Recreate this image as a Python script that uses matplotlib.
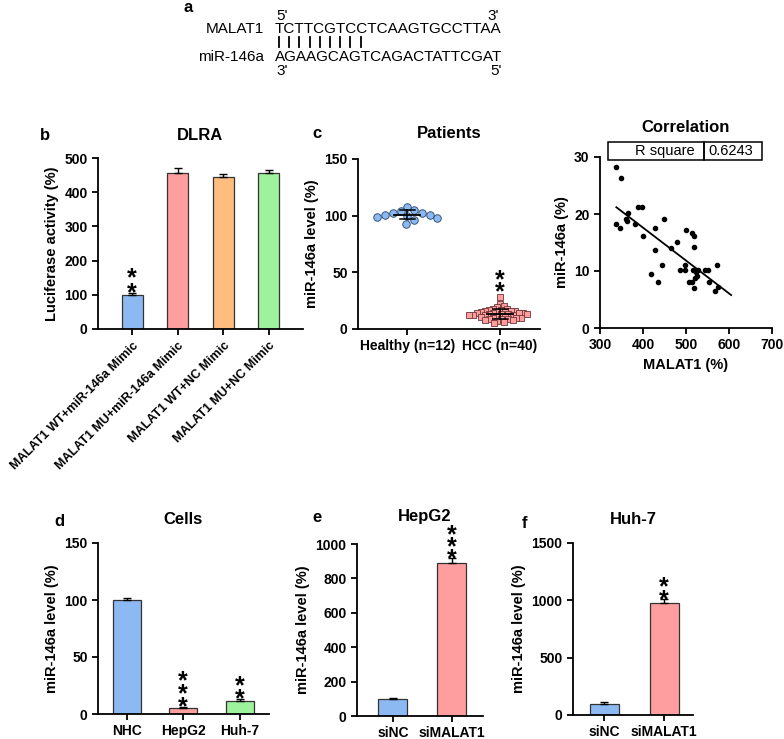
import numpy as np
import matplotlib
matplotlib.use("Agg")
import matplotlib.pyplot as plt
from matplotlib.patches import Rectangle
from matplotlib.lines import Line2D

plt.rcParams['font.family'] = ['Liberation Sans', 'DejaVu Sans']
plt.rcParams['font.weight'] = 'bold'
plt.rcParams['axes.labelweight'] = 'bold'
plt.rcParams['axes.linewidth'] = 1.3
plt.rcParams['xtick.major.width'] = 1.3
plt.rcParams['ytick.major.width'] = 1.3
plt.rcParams['xtick.major.size'] = 4
plt.rcParams['ytick.major.size'] = 4

# ---------------- data ----------------
malat1_seq = "TCTTCGTCCTCAAGTGCCTTAA"
mir_seq = "AGAAGCAGTCAGACTATTCGAT"
n_pairs = 9

dlra_labels = ["MALAT1 WT+miR-146a Mimic", "MALAT1 MU+miR-146a Mimic",
               "MALAT1 WT+NC Mimic", "MALAT1 MU+NC Mimic"]
dlra_values = [100, 455, 445, 455]
dlra_err = [6, 16, 9, 11]

healthy_vals = [108, 105, 104, 102, 102, 101, 101, 100, 99, 98, 96, 93]
hcc_vals = [28, 22, 20, 19, 18, 18, 17, 17, 16, 16, 16, 15, 15, 15, 14, 14, 14, 14, 13, 13,
            13, 13, 12, 12, 12, 12, 11, 11, 11, 10, 10, 10, 9, 9, 9, 8, 8, 7, 6, 5]
patient_labels = ["Healthy (n=12)", "HCC (n=40)"]

malat1_x = [338, 348, 338, 346, 360, 362, 365, 382, 388, 398, 400, 428, 428, 418, 435,
            444, 448, 466, 480, 486, 497, 497, 500, 506, 515, 515, 518, 518, 517, 523,
            525, 522, 518, 528, 545, 552, 554, 571, 568, 575]
mir_y = [28.2, 26.3, 18.2, 17.6, 19.1, 18.7, 20.2, 18.2, 21.2, 21.2, 16.1, 17.5, 13.7, 9.4, 8.0,
         11.1, 19.2, 14.1, 15.1, 10.1, 10.1, 11.1, 17.2, 8.1, 8.1, 16.6, 16.2, 14.2, 10.1, 9.9,
         9.1, 8.8, 7.1, 10.1, 10.1, 10.1, 8.1, 11.1, 6.5, 7.2]
r_square = "0.6243"

cells_labels = ["NHC", "HepG2", "Huh-7"]
cells_values = [100, 5, 11]
cells_err = [2, 1.5, 2.5]

hepg2_labels = ["siNC", "siMALAT1"]
hepg2_values = [100, 890]
hepg2_err = [6, 30]

huh7_labels = ["siNC", "siMALAT1"]
huh7_values = [100, 975]
huh7_err = [12, 40]

# ---------------- style ----------------
BLUE = '#8DB9F2'
PINK = '#FF9E9E'
ORANGE = '#FFBE7D'
GREEN = '#9EF29E'
EDGE = '#333333'
TICK_FS = 10
LABEL_FS = 10.5
TITLE_FS = 12
LETTER_FS = 12

W, H = 784, 739
fig = plt.figure(figsize=(W / 100, H / 100), dpi=100)


def ax_at(left, top, right, bottom):
    return fig.add_axes([left / W, 1 - bottom / H, (right - left) / W, (bottom - top) / H])


def style(ax):
    ax.spines['top'].set_visible(False)
    ax.spines['right'].set_visible(False)
    ax.tick_params(labelsize=TICK_FS)
    for lab in ax.get_xticklabels() + ax.get_yticklabels():
        lab.set_fontweight('bold')


def bars(ax, values, err, colors, width):
    x = np.arange(len(values))
    ax.bar(x, values, width=width, color=colors, edgecolor=EDGE, linewidth=0.9, zorder=2)
    ax.errorbar(x, values, yerr=[np.zeros(len(values)), err], fmt='none', ecolor='black',
                elinewidth=1.0, capsize=3, capthick=1.0, zorder=3)
    return x


def stars(ax, x, y, n, gap_px=7, step_px=10, size=18):
    # vertically stacked asterisks as one multi-line text
    em_px = size * 100 / 72
    linespacing = step_px / (0.97 * em_px)
    off_px = gap_px - 0.77 * em_px
    ax.annotate('\n'.join(['*'] * n), xy=(x, y), xytext=(0, off_px * 0.72),
                textcoords='offset points', ha='center', va='bottom', multialignment='center',
                linespacing=linespacing, fontsize=size, fontweight='bold',
                annotation_clip=False)


def fig_text(x, y, s, **kw):
    return fig.text(x / W, 1 - y / H, s, **kw)


# ---------------- panel a ----------------
fs_seq = 11
fig_text(188, 8, 'a', fontsize=LETTER_FS, fontweight='bold', ha='center', va='center')
fig_text(276, 16, "5'", fontsize=fs_seq, fontweight='normal', ha='left', va='center')
fig_text(487, 16, "3'", fontsize=fs_seq, fontweight='normal', ha='left', va='center')
fig_text(264, 29, "MALAT1", fontsize=fs_seq, fontweight='normal', ha='right', va='center')
fig_text(275, 29, malat1_seq, fontsize=fs_seq, fontweight='normal', ha='left', va='center')
for i in range(n_pairs):
    xp = (279 + i * 10.2) / W
    fig.add_artist(Line2D([xp, xp], [1 - 37 / H, 1 - 47 / H], color='black', lw=1.3))
fig_text(264, 57, "miR-146a", fontsize=fs_seq, fontweight='normal', ha='right', va='center')
fig_text(275, 57, mir_seq, fontsize=fs_seq, fontweight='normal', ha='left', va='center')
fig_text(276, 71, "3'", fontsize=fs_seq, fontweight='normal', ha='left', va='center')
fig_text(490, 71, "5'", fontsize=fs_seq, fontweight='normal', ha='left', va='center')

# ---------------- panel b ----------------
axb = ax_at(98, 158, 303, 329)
xb = bars(axb, dlra_values, dlra_err, [BLUE, PINK, ORANGE, GREEN], 0.46)
axb.set_xlim(-0.75, 3.75)
axb.set_ylim(0, 500)
axb.set_yticks([0, 100, 200, 300, 400, 500])
axb.set_xticks(xb)
axb.set_ylabel('Luciferase activity (%)', fontsize=LABEL_FS)
style(axb)
axb.set_xticklabels(dlra_labels, rotation=45, ha='right', rotation_mode='anchor',
                    fontsize=9, fontweight='bold')
stars(axb, 0, dlra_values[0] + dlra_err[0], 2, gap_px=7, step_px=12)
fig_text(200, 135, 'DLRA', fontsize=TITLE_FS, fontweight='bold', ha='center', va='center')
fig_text(45, 135, 'b', fontsize=LETTER_FS, fontweight='bold', ha='center', va='center')

# ---------------- panel c: patients ----------------
axc = ax_at(358, 159, 540, 329)
axc.set_xlim(-0.53, 1.43)
axc.set_ylim(0, 150)
axc.set_yticks([0, 50, 100, 150])
axc.set_xticks([0, 1])
axc.set_xticklabels(patient_labels, fontsize=LABEL_FS)
axc.set_ylabel('miR-146a level (%)', fontsize=LABEL_FS)
style(axc)


def swarm_x(ax, xc, values, d_px):
    trans = ax.transData
    pts = trans.transform(np.column_stack([np.full(len(values), xc), values]))
    cx = pts[0, 0]
    order = np.argsort(values)[::-1]
    placed = []
    xs = np.zeros(len(values))
    for idx in order:
        y = pts[idx, 1]
        cands = [cx]
        for (px, py) in placed:
            dy = abs(py - y)
            if dy < d_px:
                dx = np.sqrt(d_px ** 2 - dy ** 2)
                cands += [px + dx, px - dx]
        cands = sorted(cands, key=lambda c: abs(c - cx))
        for c in cands:
            ok = all((c - px) ** 2 + (y - py) ** 2 >= d_px ** 2 - 1e-6 for (px, py) in placed)
            if ok:
                placed.append((c, y))
                xs[idx] = c
                break
    inv = trans.inverted()
    return inv.transform(np.column_stack([xs, pts[:, 1]]))[:, 0]


hx = swarm_x(axc, 0, np.array(healthy_vals, float), 8.0)
axc.plot(hx, healthy_vals, 'o', ms=5.4, mfc=BLUE, mec='#35557a', mew=0.7, zorder=3, clip_on=False)
cx_ = swarm_x(axc, 1, np.array(hcc_vals, float), 4.3)
axc.plot(cx_, hcc_vals, 's', ms=5.0, mfc=PINK, mec='#6e3535', mew=0.6, zorder=3, clip_on=False)
for xc, vals in [(0, healthy_vals), (1, hcc_vals)]:
    m = np.mean(vals)
    sd = np.std(vals, ddof=1)
    axc.plot([xc - 0.14, xc + 0.14], [m, m], color='black', lw=1.3, zorder=4)
    axc.plot([xc, xc], [m - sd, m + sd], color='black', lw=1.1, zorder=4)
    for v in (m - sd, m + sd):
        axc.plot([xc - 0.08, xc + 0.08], [v, v], color='black', lw=1.1, zorder=4)
stars(axc, 1, max(hcc_vals), 2, gap_px=12, step_px=9)
fig_text(449, 133, 'Patients', fontsize=TITLE_FS, fontweight='bold', ha='center', va='center')
fig_text(317, 133, 'c', fontsize=LETTER_FS, fontweight='bold', ha='center', va='center')

# ---------------- correlation ----------------
axr = ax_at(600, 157, 772, 328)
axr.set_xlim(300, 700)
axr.set_ylim(0, 30)
axr.set_xticks([300, 400, 500, 600, 700])
axr.set_yticks([0, 10, 20, 30])
axr.set_xlabel('MALAT1 (%)', fontsize=LABEL_FS)
axr.set_ylabel('miR-146a (%)', fontsize=LABEL_FS)
style(axr)
axr.plot(malat1_x, mir_y, 'o', ms=3.0, color='black', zorder=3)
coef = np.polyfit(malat1_x, mir_y, 1)
lx = np.array([min(malat1_x), max(malat1_x) + 30])
axr.plot(lx, np.polyval(coef, lx), color='black', lw=1.3, zorder=2)
tb_kw = dict(transform=axr.transAxes, clip_on=False, fill=False, lw=1.1, ec='black')
axr.add_patch(Rectangle((0.047, 0.982), 0.555, 0.106, **tb_kw))
axr.add_patch(Rectangle((0.602, 0.982), 0.34, 0.106, **tb_kw))
axr.text(0.55, 1.035, 'R square', transform=axr.transAxes, ha='right', va='center',
         fontsize=10.5, fontweight='normal')
axr.text(0.63, 1.035, r_square, transform=axr.transAxes, ha='left', va='center',
         fontsize=10.5, fontweight='normal')
fig_text(686, 127, 'Correlation', fontsize=TITLE_FS, fontweight='bold', ha='center', va='center')

# ---------------- panel d ----------------
axd = ax_at(98, 543, 269, 714)
xd = bars(axd, cells_values, cells_err, [BLUE, PINK, GREEN], 0.5)
axd.set_xlim(-0.51, 2.52)
axd.set_ylim(0, 150)
axd.set_yticks([0, 50, 100, 150])
axd.set_xticks(xd)
axd.set_xticklabels(cells_labels, fontsize=LABEL_FS)
axd.set_ylabel('miR-146a level (%)', fontsize=LABEL_FS)
style(axd)
stars(axd, 1, cells_values[1] + cells_err[1], 3)
stars(axd, 2, cells_values[2] + cells_err[2], 2)
fig_text(183, 520, 'Cells', fontsize=TITLE_FS, fontweight='bold', ha='center', va='center')
fig_text(59, 522, 'd', fontsize=LETTER_FS, fontweight='bold', ha='center', va='center')

# ---------------- panel e ----------------
axe = ax_at(357, 544, 483, 716)
xe = bars(axe, hepg2_values, hepg2_err, [BLUE, PINK], 0.49)
axe.set_xlim(-0.61, 1.53)
axe.set_ylim(0, 1000)
axe.set_yticks([0, 200, 400, 600, 800, 1000])
axe.set_xticks(xe)
axe.set_xticklabels(hepg2_labels, fontsize=LABEL_FS)
axe.set_ylabel('miR-146a level (%)', fontsize=LABEL_FS)
style(axe)
stars(axe, 1, hepg2_values[1] + hepg2_err[1], 3, gap_px=6, step_px=9)
fig_text(425, 517, 'HepG2', fontsize=TITLE_FS, fontweight='bold', ha='center', va='center')
fig_text(317, 518, 'e', fontsize=LETTER_FS, fontweight='bold', ha='center', va='center')

# ---------------- panel f ----------------
axf = ax_at(573, 543, 693, 715)
xf = bars(axf, huh7_values, huh7_err, [BLUE, PINK], 0.48)
axf.set_xlim(-0.52, 1.48)
axf.set_ylim(0, 1500)
axf.set_yticks([0, 500, 1000, 1500])
axf.set_xticks(xf)
axf.set_xticklabels(huh7_labels, fontsize=LABEL_FS)
axf.set_ylabel('miR-146a level (%)', fontsize=LABEL_FS)
style(axf)
stars(axf, 1, huh7_values[1] + huh7_err[1], 2, gap_px=6, step_px=9)
fig_text(633, 520, 'Huh-7', fontsize=TITLE_FS, fontweight='bold', ha='center', va='center')
fig_text(525, 523, 'f', fontsize=LETTER_FS, fontweight='bold', ha='center', va='center')

fig.savefig('out.png', dpi=100)
